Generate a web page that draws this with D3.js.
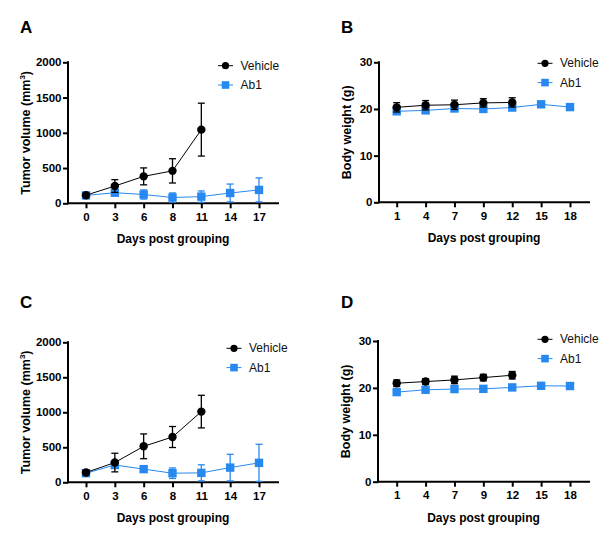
<!DOCTYPE html>
<html>
<head>
<meta charset="utf-8">
<script src="https://cdn.jsdelivr.net/npm/d3@7"></script>
<style>
html,body{margin:0;padding:0;background:#fff;}
svg{display:block;font-family:"Liberation Sans",Arial,sans-serif;}
</style>
</head>
<body>
<svg id="chart" width="610" height="542"></svg>
<script>
// ---- Data ----
const tumorDays = ["0","3","6","8","11","14","17"];
const weightDays = ["1","4","7","9","12","15","18"];
const seriesNames = ["Vehicle","Ab1"];

// Panel A: tumor volume (mm3)
const aVehicle = [115, 245, 382, 460, 1045];
const aVehicleErr = [15, 90, 120, 172, 375];
const aAb1 = [112, 150, 125, 82, 95, 146, 190];
const aAb1Err = [15, 40, 65, 65, 80, 127, 170];

// Panel B: body weight (g)
const bVehicle = [20.35, 20.8, 20.9, 21.3, 21.4];
const bVehicleErr = [1.0, 1.0, 1.0, 0.9, 1.0];
const bAb1 = [19.5, 19.7, 20.1, 20.0, 20.3, 21.0, 20.4];
const bAb1Err = [0.4, 0.4, 0.4, 0.4, 0.4, 0.4, 0.4];

// Panel C: tumor volume (mm3)
const cVehicle = [140, 282, 514, 647, 1010];
const cVehicleErr = [30, 133, 177, 150, 233];
const cAb1 = [130, 247, 188, 130, 135, 210, 278];
const cAb1Err = [25, 30, 20, 75, 115, 190, 265];

// Panel D: body weight (g)
const dVehicle = [21.0, 21.35, 21.7, 22.2, 22.7];
const dVehicleErr = [0.7, 0.6, 0.8, 0.7, 0.8];
const dAb1 = [19.1, 19.6, 19.75, 19.8, 20.1, 20.45, 20.4];
const dAb1Err = [0.4, 0.4, 0.4, 0.4, 0.4, 0.4, 0.4];

const tumorTicks = [0, 500, 1000, 1500, 2000];
const weightTicks = [0, 10, 20, 30];

const BLUE = "#2789f0";
const BLACK = "#000";

const svg = d3.select("#chart");

const panels = [
  {letter:"A", lx:20, ly:33, x0:68, x1:279, pA:86, pB:259, yT:62.3, yB:203.3,
   days:tumorDays, dom:[0,2000], ticks:tumorTicks, ytitle:"tumor", ytx:27,
   veh:aVehicle, vehE:aVehicleErr, ab:aAb1, abE:aAb1Err, legX:225.5, legY:65.7},
  {letter:"B", lx:341, ly:33, x0:379, x1:590, pA:396.7, pB:570, yT:62.3, yB:202.3,
   days:weightDays, dom:[0,30], ticks:weightTicks, ytitle:"weight", ytx:348,
   veh:bVehicle, vehE:bVehicleErr, ab:bAb1, abE:bAb1Err, legX:545, legY:63.3},
  {letter:"C", lx:20, ly:308, x0:68, x1:279, pA:86, pB:259, yT:342.3, yB:482.3,
   days:tumorDays, dom:[0,2000], ticks:tumorTicks, ytitle:"tumor", ytx:27,
   veh:cVehicle, vehE:cVehicleErr, ab:cAb1, abE:cAb1Err, legX:234, legY:348.3},
  {letter:"D", lx:341, ly:308, x0:378, x1:590, pA:396.7, pB:570, yT:341, yB:481.7,
   days:weightDays, dom:[0,30], ticks:weightTicks, ytitle:"weight", ytx:347,
   veh:dVehicle, vehE:dVehicleErr, ab:dAb1, abE:dAb1Err, legX:545, legY:339.3}
];

panels.forEach(p => {
  const g = svg.append("g");
  // panel letter
  g.append("text").attr("x", p.lx).attr("y", p.ly)
    .attr("font-size", 17).attr("font-weight", "bold").text(p.letter);

  const x = d3.scalePoint().domain(p.days).range([p.pA, p.pB]);
  const y = d3.scaleLinear().domain(p.dom).range([p.yB, p.yT]);

  // y axis
  const yAx = g.append("g").attr("transform", `translate(${p.x0},0)`)
    .call(d3.axisLeft(y).tickValues(p.ticks).tickSize(5).tickPadding(1.5).tickFormat(d3.format("d")));
  yAx.select(".domain").remove();
  yAx.selectAll(".tick line").attr("stroke", BLACK).attr("stroke-width", 2);
  yAx.selectAll(".tick text").attr("font-size", 11.5).attr("font-weight", "bold")
    .attr("fill", BLACK).attr("font-family", "'Liberation Sans',Arial,sans-serif");
  g.append("line").attr("x1", p.x0).attr("x2", p.x0).attr("y1", p.yT - 1).attr("y2", p.yB + 1)
    .attr("stroke", BLACK).attr("stroke-width", 2);

  // x axis
  const xAx = g.append("g").attr("transform", `translate(0,${p.yB})`)
    .call(d3.axisBottom(x).tickSize(5).tickPadding(4.5));
  xAx.select(".domain").remove();
  xAx.selectAll(".tick line").attr("stroke", BLACK).attr("stroke-width", 2);
  xAx.selectAll(".tick text").attr("font-size", 11.5).attr("font-weight", "bold")
    .attr("fill", BLACK).attr("font-family", "'Liberation Sans',Arial,sans-serif");
  g.append("line").attr("x1", p.x0 - 1).attr("x2", p.x1).attr("y1", p.yB).attr("y2", p.yB)
    .attr("stroke", BLACK).attr("stroke-width", 2);

  // axis titles
  g.append("text").attr("x", (p.x0 + p.x1) / 2 - 0.5).attr("y", p.yB + 40)
    .attr("text-anchor", "middle").attr("font-size", 12).attr("font-weight", "bold")
    .text("Days post grouping");
  const yt = g.append("text")
    .attr("transform", `translate(${p.ytx},${(p.yT + p.yB) / 2}) rotate(-90)`)
    .attr("text-anchor", "middle").attr("dominant-baseline", "middle")
    .attr("font-size", 12.5).attr("font-weight", "bold");
  if (p.ytitle === "tumor") {
    yt.append("tspan").text("Tumor volume (mm");
    yt.append("tspan").attr("baseline-shift", "super").attr("font-size", 8).text("3");
    yt.append("tspan").text(")");
  } else {
    yt.text("Body weight (g)");
  }

  // series
  const drawSeries = (vals, errs, color, shape) => {
    const pts = vals.map((v, i) => ({d: p.days[i], v: v, e: errs[i]}));
    const s = g.append("g");
    s.append("path").datum(pts)
      .attr("d", d3.line().x(d => x(d.d)).y(d => y(d.v)))
      .attr("fill", "none").attr("stroke", color).attr("stroke-width", 1);
    pts.forEach(d => {
      const top = y(d.v + d.e), bot = y(Math.max(0, d.v - d.e));
      const cx = x(d.d);
      s.append("line").attr("x1", cx).attr("x2", cx).attr("y1", top).attr("y2", bot)
        .attr("stroke", color).attr("stroke-width", 1.3);
      [top, bot].forEach(yy => s.append("line")
        .attr("x1", cx - 3.5).attr("x2", cx + 3.5).attr("y1", yy).attr("y2", yy)
        .attr("stroke", color).attr("stroke-width", 1.3));
    });
    pts.forEach(d => {
      if (shape === "circle") {
        s.append("circle").attr("cx", x(d.d)).attr("cy", y(d.v)).attr("r", 4.2).attr("fill", color);
      } else {
        s.append("rect").attr("x", x(d.d) - 4.2).attr("y", y(d.v) - 4.2)
          .attr("width", 8.4).attr("height", 8.4).attr("fill", color);
      }
    });
  };
  drawSeries(p.ab, p.abE, BLUE, "square");
  drawSeries(p.veh, p.vehE, BLACK, "circle");

  // legend
  const leg = [
    {name: seriesNames[0], color: BLACK, shape: "circle", dy: 0},
    {name: seriesNames[1], color: BLUE, shape: "square", dy: 19.3}
  ];
  leg.forEach(l => {
    const ly = p.legY + l.dy;
    g.append("line").attr("x1", p.legX - 7.5).attr("x2", p.legX + 7.5).attr("y1", ly).attr("y2", ly)
      .attr("stroke", l.color).attr("stroke-width", 1);
    if (l.shape === "circle") {
      g.append("circle").attr("cx", p.legX).attr("cy", ly).attr("r", 3.6).attr("fill", l.color);
    } else {
      g.append("rect").attr("x", p.legX - 3.8).attr("y", ly - 3.8).attr("width", 7.6).attr("height", 7.6).attr("fill", l.color);
    }
    g.append("text").attr("x", p.legX + 15).attr("y", ly).attr("dominant-baseline", "central")
      .attr("font-size", 12).attr("fill", "#111").text(l.name);
  });
});
</script>
</body>
</html>
